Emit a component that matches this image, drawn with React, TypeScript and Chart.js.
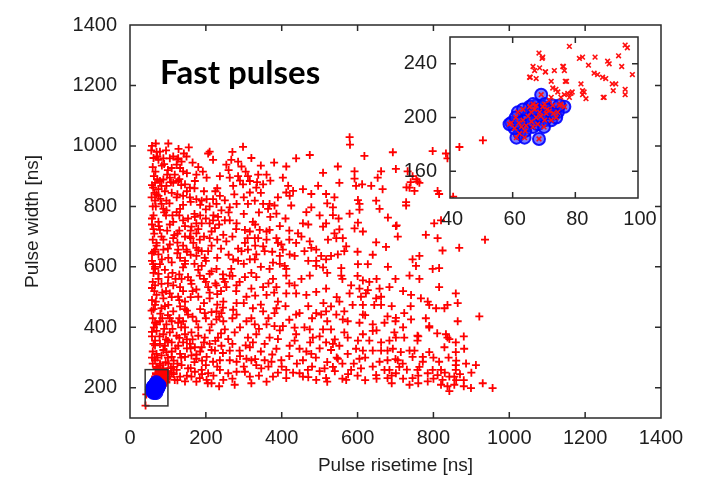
import React, { useEffect, useRef } from 'react';
import { Chart, registerables } from 'chart.js';

Chart.register(...registerables);

const FONT = "'Liberation Sans', Arial, Helvetica, sans-serif";
const TXT = '#1e1e1e';
const FRAME = '#2a2a2a';

const xTicks = [0, 200, 400, 600, 800, 1000, 1200, 1400];
const yTicks = [200, 400, 600, 800, 1000, 1200, 1400];
const insetXTicks = [40, 60, 80, 100];
const insetYTicks = [160, 200, 240];
const insetBox = [40, 100, 140, 260];

const xTitle = 'Pulse risetime [ns]';
const yTitle = 'Pulse width [ns]';
const noteText = 'Fast pulses';

// Fast pulses (red +), upper-left region
const mainUpperLeft: number[][] = [
  [68,1008],[101,1008],[79,981],[88,959],[75,954],[105,959],[114,965],[127,959],[149,965],[136,948],[123,938],[110,927],[132,927],[140,916],[118,905],[105,895],[88,889],[79,884],[66,878],[61,862],[75,857],[83,868],[96,868],[114,878],[127,884],[145,873],[158,862],[171,884],[175,905],[202,895],[210,981],[206,975],[219,954],[237,900],[254,938],[267,954],[285,948],[294,932],[298,997],[263,895],[285,900],[272,868],[298,873],[311,900],[316,884],[338,905],[360,905],[351,873],[316,846],[333,862],[403,895],[412,932],[417,868],[412,846],[421,835],[438,959],[474,970],[430,851],[456,857],[478,841],[496,868],[509,911],[517,841],
  [66,819],[75,835],[83,808],[96,819],[123,830],[140,835],[158,830],[175,824],[189,819],[202,824],[219,824],[237,835],[228,808],[241,787],[263,797],[281,808],[311,808],[329,819],[351,808],[368,808],[381,803],[364,792],[386,776],[425,803],[465,781],[478,797],[88,792],[96,787],[132,792],[123,781],[114,749],[75,749],[79,722],[83,700],[70,679],[66,657],[75,641],[79,609],[61,609],[66,593],[140,754],[153,760],[171,765],[175,744],[189,744],[162,733],[158,700],[175,711],[184,690],[167,679],[175,663],[189,652],[206,652],[197,630],[175,636],[149,657],[127,657],[132,630],[114,695],[105,674],[88,657],[101,630],[210,744],[219,754],[232,765],[250,754],[263,754],[281,744],[246,706],[254,684],[224,728],[210,695],[215,717],[303,722],[316,717],[324,749],[329,695],[338,695],[342,722],[360,717],[368,722],[351,668],[355,652],[333,641],[311,657],[303,679],[294,652],[272,625],[285,620],[228,593],[267,593],[316,625],[329,625],[368,593],[377,614],[390,679],[399,674],[403,657],[386,695],[395,636],[408,603],[412,593],[421,641],[434,636],[438,679],[443,711],[456,744],[452,700],[460,652],[474,684],[478,663],[491,657],[504,636],[509,733],[517,744],[522,690],[491,620],[491,603],[509,598],[517,625],[140,598],[145,620],[189,603],
  [70,980],[90,940],[100,920],[130,890],[70,840],[110,845],[150,850],[95,770],[105,740],[130,720],[145,700],[160,720],[125,680],[150,650],[170,610],[200,790],[185,770],[230,860],[250,820],[225,850],[58,1000],[62,960],[60,930],[63,900],[58,870],[65,845],[60,800],[62,770],[58,740],[64,710],[60,690],[63,650],[58,620]
];

// upper-right region
const mainUpperRight: number[][] = [
  [579,1029],[580,1004],[618,967],[548,932],[592,916],[592,892],[596,868],[612,873],[552,878],[636,868],[653,895],[662,916],[666,857],[693,979],[701,924],[737,862],[750,851],[763,878],[732,916],[798,983],[833,975],[837,959],[811,851],[815,841],[539,830],[535,797],[535,771],[579,776],[601,821],[605,808],[605,789],[649,819],[658,792],[728,814],[728,803],[680,763],[701,735],[706,700],[601,746],[592,727],[614,717],[539,711],[552,724],[561,695],[544,695],[570,668],[565,652],[548,641],[530,636],[557,596],[601,609],[627,609],[649,681],[675,666],[745,625],[763,636],[754,603],[780,706],[811,695],[802,744],[820,754],[824,654],[798,593],[815,596],[868,663],[936,690],
  [758,883],[729,863],[745,900],[755,890],[740,880],[703,737]
];

// lower-left region
const mainLowerLeft: number[][] = [
  [75,577],[101,566],[136,560],[153,566],[184,571],[210,577],[246,560],[263,571],[303,566],[333,566],[377,560],[412,571],[452,560],[474,571],
  [66,539],[83,544],[114,539],[132,533],[162,544],[206,533],[228,539],[254,533],[281,539],[289,550],[320,528],[351,533],[386,533],[412,512],[434,539],[438,512],[465,507],[491,517],[517,528],
  [70,507],[88,496],[105,512],[127,501],[145,485],[180,501],[210,496],[246,485],[281,480],[307,501],[360,507],[390,485],
  [66,474],[83,463],[101,474],[114,453],[132,469],[153,442],[197,447],[228,453],[241,447],[272,458],[281,442],[324,463],[351,453],[381,447],[386,463],[438,442],[447,447],[491,447],[504,442],[517,453],
  [66,415],[79,420],[96,410],[110,420],[127,415],[140,420],[175,420],[215,410],[228,426],[246,420],[250,393],[276,383],[307,420],[329,410],[360,410],[381,404],[403,404],[434,399],[474,393],[509,393],
  [70,388],[88,377],[105,383],[123,372],[145,377],[162,383],[180,372],[197,366],[232,366],[259,361],[311,366],[324,350],[333,377],[368,366],[390,361],[438,377],[434,356],[482,366],
  [66,356],[79,345],[92,339],[110,350],[127,339],[140,350],[158,345],[171,334],[189,334],[210,345],[224,323],[241,339],[263,323],[289,323],[316,334],[355,345],[386,329],[421,339],[447,329],[478,312],[517,350],
  [70,312],[83,307],[96,318],[110,302],[132,312],[145,302],[162,307],[175,296],[202,302],[219,286],[237,291],[263,291],[281,286],[307,296],[320,291],[333,275],[355,291],[373,286],[399,291],[412,259],[456,291],
  [66,291],[79,280],[70,269],[88,264],[101,280],[114,269],[123,259],[136,275],[153,264],[171,253],[189,259],[206,248],[202,226],[237,259],[259,248],[281,253],[303,253],[316,237],[346,264],[377,237],[412,232],[447,248],[456,237],[469,259],[491,226],[513,264],[517,232],
  [105,237],[118,226],[132,237],[145,221],[162,237],[184,232],[215,215],[246,226],[276,210],
  [70,245],[80,235],[90,250],[95,230],[85,260],
  [62,580],[60,550],[64,520],[58,490],[62,460],[60,430],[63,400],[58,370],[62,345],[60,320],[65,300],[60,280],[70,265],[75,255],[100,300],[115,290],[120,330],[95,360],[135,400],[150,360],[160,330],[175,310],[190,290],[110,250],[125,280],[85,430],[100,440],[145,460],[165,520],[200,550],[230,510],[95,520],[120,560]
];

// lower-right region
const mainLowerRight: number[][] = [
  [557,571],[614,555],[631,550],[583,539],[605,528],[627,523],[658,528],[684,533],[579,512],[609,501],[622,512],[649,496],[662,501],[552,485],[587,474],[614,474],[644,474],[662,474],[565,453],[614,442],[544,442],[530,469],[561,426],[574,420],[605,415],[640,410],[671,415],[679,436],[701,431],[723,447],[741,426],[530,393],[565,383],[574,366],[601,356],[614,377],[640,388],[631,356],[662,350],[684,356],[697,383],[701,366],[723,366],[758,372],[758,356],[789,399],[833,377],[842,361],[859,350],[881,329],[829,334],[859,318],[789,318],[737,323],[750,323],[772,302],[745,302],[714,318],[693,329],[679,323],[662,323],[640,323],[614,323],[596,329],[574,312],[552,339],[535,345],[548,296],[605,296],[658,286],[679,291],[706,291],[710,269],[719,280],[701,248],[684,259],[671,259],[649,242],[679,232],[737,210],[745,232],[763,269],[758,259],[772,286],[798,259],[815,286],[811,242],[820,259],[824,226],[842,237],[855,237],[859,259],[859,275],[886,280],[912,275],[837,205],[842,189],[855,210],[899,199],[956,199],[785,221],[785,248],[583,259],[570,226],[609,264],[535,269],[767,496],[785,485],[789,474],[807,463],[829,463],[837,474],[864,480],[859,512],[815,533],[741,507],[763,560],[737,571],[921,436],[864,420],[789,404],[837,366]
];

// additional events read from the densest parts of the cloud
const mainDense: number[][] = [
  [56,985],[72,965],[95,985],[84,935],[67,915],[98,905],[72,890],[108,880],[92,850],[57,830],[80,825],[104,810],[68,800],[90,780],[112,770],[58,760],[76,735],[98,720],[117,705],[62,725],[88,690],[70,670],[100,660],[58,645],[84,625],[110,615],[66,600],[92,590],[112,580],[75,560],[100,545],[58,530],[85,515],[110,500],[68,485],[92,470],[57,455],[80,445],[105,430],[70,410],[90,395],[112,395],[58,385],[78,370],[100,355],[66,340],[88,325],[110,320],[72,300],[94,285],[108,265],[80,275],[58,300],[115,245],[100,255],[88,245],
  [128,990],[155,995],[142,975],[165,945],[125,955],[180,930],[150,910],[192,915],[135,870],[170,860],[195,850],[125,840],[160,815],[185,805],[210,800],[140,805],[130,770],[170,775],[200,760],[220,770],[145,735],[180,725],[235,740],[125,710],[160,695],[195,700],[230,690],[140,670],[180,655],[215,670],[240,660],[125,645],[160,640],[200,620],[230,630],[145,610],[180,590],[215,585],[245,575],[130,575],[160,555],[195,560],[225,545],[250,550],[140,520],[175,525],[210,515],[240,520],[130,490],[160,500],[195,480],[230,475],[150,455],[185,460],[215,450],[245,465],[130,430],[165,435],[200,430],[235,435],[145,400],[180,400],[210,390],[240,380],[130,365],[165,360],[195,350],[225,355],[150,330],[185,320],[215,325],[245,315],[135,300],[170,285],[200,275],[230,270],[160,265],[190,245],[220,240],[150,240],[125,225],[175,220],[205,215],[235,205],
  [270,980],[320,960],[260,920],[305,915],[345,935],[380,945],[290,885],[335,880],[370,885],[275,840],[300,830],[345,845],[390,830],[260,780],[300,775],[340,780],[370,765],[410,760],[280,725],[330,740],[395,735],[420,720],[270,700],[310,695],[360,690],[420,690],[285,660],[330,670],[375,650],[260,640],[300,610],[345,600],[395,610],[270,570],[320,580],[365,545],[420,545],[280,520],[330,505],[380,515],[300,480],[345,475],[410,470],[270,430],[320,430],[365,430],[420,425],[290,400],[340,395],[395,390],[270,345],[305,340],[345,320],[375,310],[420,305],[290,305],[330,295],[365,270],[400,270],[440,280],[300,270],[270,230],[340,240],[390,250],[430,250],[360,220],[320,215],
  [470,470],[510,480],[545,500],[480,430],[520,420],[460,400],[500,370],[540,360],[475,350],[500,330],[530,325],[465,320],[545,300],[490,300],[520,285],[560,280],[480,270],[500,255],[540,255],[575,245],[590,280],[620,300],[640,270],[600,240],[560,230],[620,225],[520,220],[650,230],[470,235],[700,295],[690,240],[730,260],[720,230],[760,240],[690,215],[800,230],[760,215],[830,250],[870,245],[880,225],[860,290],[900,250],[840,300],[800,300],[860,225],[820,210],[880,205],[930,215],[520,810],[500,770],[470,740],[550,760],[470,620],[560,560],[520,580],[600,650],[640,640],[680,600],[600,570],[650,560],[700,560],[720,520],[690,470],[740,470],[700,420],[650,390],[620,440],[720,400],[780,430],[760,370],[810,380],[880,370]
];

// Inset: red "x" points (risetime, width)
const insetCrossRot: number[][] = [
  [68.4,248],[69.4,244],[78.1,253],[66.5,238],[67,235],[68.6,237],[65.4,230],[67.5,229],[70.5,234],[73.3,235],[76.2,238],[76.5,235],[77.2,227],[72.3,227],[72.8,222],[74.4,219],[75.4,215],[76.5,217],[77.6,218],[78.6,218],[78.1,215],[72.3,215],[71.7,213],[75.4,210],[81.8,225],[82.3,217],[83.4,214],[82.3,220],[81.3,244],[82.3,245],[84.2,239],[86.3,245],[87.1,232],[88.7,230],[89.7,229],[90.3,242],[90.8,240],[89.2,215],[92.1,220],[92.9,225],[93.8,246],[94.8,238],[95.9,254],[96.6,252],[95.9,221],[95.9,217],[98.2,232],
  [86,233],[91.8,225],[88.9,215],[82.8,219],[76.8,227],[76,238],[70.4,234],[65.6,230],[69.6,245],[73.8,221],[79,219]
];

// Inset: red "+" points
const insetPlus: number[][] = [[43,178],[50.5,183],[41,141]];

// Blue circled events
const blueEvents: number[][] = [
  [69.1,217],[59.6,196],[61.7,204],[62.2,188],[61.2,185],[63.8,185],[66.5,193],[68.4,184],[76.5,208],[74.4,204],[72.3,198],[70.2,198],[63.3,198],[65.4,208],[67.5,209],[69.6,208],[71.7,205],[64.9,201],[67.5,200],[62.8,193],[64.3,194],[68.6,204],[70.7,203],[65.9,204],[73.9,200],[68,195],[60.6,192],[63.3,206],[72.8,209],[66.5,210],[70.2,210],[74.9,209],[59,195],
  [61,200],[64,190],[66,197],[71,206],[73,203],[69,201],[62,196],[67,206],[70,193]
];

const toXY = (arr: number[][]) => arr.map(([x, y]) => ({ x, y }));

const mainDecor = {
  id: 'mainDecor',
  afterDraw(chart: any) {
    const { ctx, chartArea: ca, scales } = chart;
    const sx = scales.x, sy = scales.y;
    ctx.save();
    ctx.strokeStyle = FRAME;
    ctx.lineWidth = 1.5;
    ctx.strokeRect(ca.left, ca.top, ca.right - ca.left, ca.bottom - ca.top);
    const tl = 6;
    ctx.beginPath();
    xTicks.forEach((v) => {
      const p = sx.getPixelForValue(v);
      if (p <= ca.left + 1 || p >= ca.right - 1) return;
      ctx.moveTo(p, ca.bottom); ctx.lineTo(p, ca.bottom - tl);
      ctx.moveTo(p, ca.top); ctx.lineTo(p, ca.top + tl);
    });
    yTicks.forEach((v) => {
      const p = sy.getPixelForValue(v);
      if (p <= ca.top + 1 || p >= ca.bottom - 1) return;
      ctx.moveTo(ca.left, p); ctx.lineTo(ca.left + tl, p);
      ctx.moveTo(ca.right, p); ctx.lineTo(ca.right - tl, p);
    });
    ctx.stroke();
    const bx0 = sx.getPixelForValue(insetBox[0]);
    const bx1 = sx.getPixelForValue(insetBox[1]);
    const by0 = sy.getPixelForValue(insetBox[3]);
    const by1 = sy.getPixelForValue(insetBox[2]);
    ctx.strokeStyle = '#333';
    ctx.lineWidth = 1.5;
    ctx.strokeRect(bx0, by0, bx1 - bx0, by1 - by0);
    ctx.fillStyle = '#000';
    ctx.font = "bold 33px Lato, 'Open Sans', sans-serif";
    ctx.textAlign = 'left';
    ctx.textBaseline = 'alphabetic';
    ctx.fillText(noteText, ca.left + 30, ca.top + 59);
    ctx.restore();
  },
};

const insetDecor = {
  id: 'insetDecor',
  beforeDatasetsDraw(chart: any) {
    const { ctx, chartArea: ca } = chart;
    ctx.save();
    ctx.fillStyle = '#ffffff';
    ctx.fillRect(ca.left, ca.top, ca.right - ca.left, ca.bottom - ca.top);
    ctx.restore();
  },
  afterDraw(chart: any) {
    const { ctx, chartArea: ca, scales } = chart;
    const sx = scales.x, sy = scales.y;
    ctx.save();
    ctx.strokeStyle = FRAME;
    ctx.lineWidth = 1.5;
    ctx.strokeRect(ca.left, ca.top, ca.right - ca.left, ca.bottom - ca.top);
    const tl = 6;
    ctx.beginPath();
    insetXTicks.forEach((v) => {
      const p = sx.getPixelForValue(v);
      if (p <= ca.left + 1 || p >= ca.right - 1) return;
      ctx.moveTo(p, ca.bottom); ctx.lineTo(p, ca.bottom - tl);
      ctx.moveTo(p, ca.top); ctx.lineTo(p, ca.top + tl);
    });
    insetYTicks.forEach((v) => {
      const p = sy.getPixelForValue(v);
      ctx.moveTo(ca.left, p); ctx.lineTo(ca.left + tl, p);
      ctx.moveTo(ca.right, p); ctx.lineTo(ca.right - tl, p);
    });
    ctx.stroke();
    ctx.fillStyle = TXT;
    ctx.font = `20px ${FONT}`;
    ctx.textBaseline = 'middle';
    ctx.textAlign = 'right';
    insetYTicks.forEach((v) => {
      ctx.fillText(String(v), ca.left - 13, sy.getPixelForValue(v));
    });
    ctx.textAlign = 'center';
    insetXTicks.forEach((v) => {
      ctx.fillText(String(v), sx.getPixelForValue(v) + 2, ca.bottom + 21);
    });
    ctx.restore();
  },
};

export default function App() {
  const mainRef = useRef<HTMLCanvasElement>(null);
  const insetRef = useRef<HTMLCanvasElement>(null);

  useEffect(() => {
    const redAll = [
      ...mainUpperLeft, ...mainUpperRight, ...mainLowerLeft, ...mainLowerRight, ...mainDense,
      ...insetCrossRot, ...insetPlus,
    ];
    const main = new Chart(mainRef.current as HTMLCanvasElement, {
      type: 'scatter',
      data: {
        datasets: [
          {
            label: 'selected',
            data: toXY(blueEvents),
            pointStyle: 'circle',
            pointRadius: 7,
            pointBackgroundColor: 'rgba(0,0,255,0.9)',
            pointBorderColor: 'rgba(0,0,255,0.9)',
            pointBorderWidth: 1,
          } as any,
          {
            label: 'fast',
            data: toXY(redAll),
            pointStyle: 'cross',
            pointRadius: 4,
            pointBorderColor: '#ff0000',
            pointBorderWidth: 1.8,
          } as any,
        ],
      },
      options: {
        animation: false,
        responsive: false,
        devicePixelRatio: 1,
        layout: { padding: { left: 0, right: 44, top: 17, bottom: 0 } },
        plugins: { legend: { display: false }, tooltip: { enabled: false } },
        scales: {
          x: {
            type: 'linear',
            min: xTicks[0],
            max: xTicks[xTicks.length - 1],
            grid: { display: false, drawTicks: false },
            border: { display: false },
            afterBuildTicks: (s: any) => { s.ticks = xTicks.map((v) => ({ value: v })); },
            afterFit: (s: any) => { s.height = 68; },
            ticks: {
              padding: 8, color: TXT, autoSkip: false, maxRotation: 0,
              font: { family: FONT, size: 20 },
              callback: (v: any) => String(v),
            },
            title: {
              display: true, text: xTitle, color: TXT,
              font: { family: FONT, size: 19 },
              padding: { top: 0, bottom: 9 },
            },
          },
          y: {
            type: 'linear',
            min: 100,
            max: yTicks[yTicks.length - 1],
            grid: { display: false, drawTicks: false },
            border: { display: false },
            afterBuildTicks: (s: any) => { s.ticks = yTicks.map((v) => ({ value: v })); },
            afterFit: (s: any) => { s.width = 130; },
            ticks: {
              padding: 13, color: TXT, autoSkip: false,
              font: { family: FONT, size: 20 },
              callback: (v: any) => String(v),
            },
            title: {
              display: true, text: yTitle, color: TXT,
              font: { family: FONT, size: 19 },
              padding: { top: 21, bottom: 0 },
            },
          },
        },
      },
      plugins: [mainDecor],
    });

    const inset = new Chart(insetRef.current as HTMLCanvasElement, {
      type: 'scatter',
      data: {
        datasets: [
          {
            label: 'fast-x',
            data: toXY([...insetCrossRot, ...blueEvents]),
            pointStyle: 'crossRot',
            pointRadius: 3.3,
            pointBorderColor: '#ff1010',
            pointBorderWidth: 1.6,
          } as any,
          {
            label: 'fast-plus',
            data: toXY(insetPlus),
            pointStyle: 'cross',
            pointRadius: 4,
            pointBorderColor: '#ff0000',
            pointBorderWidth: 1.8,
          } as any,
          {
            label: 'selected',
            data: toXY(blueEvents),
            pointStyle: 'circle',
            pointRadius: 6,
            pointBackgroundColor: 'rgba(30,30,255,0.6)',
            pointBorderColor: 'rgba(0,0,255,0.9)',
            pointBorderWidth: 2,
          } as any,
        ],
      },
      options: {
        animation: false,
        responsive: false,
        devicePixelRatio: 1,
        layout: { padding: { left: 70, right: 42, top: 17, bottom: 52 } },
        plugins: { legend: { display: false }, tooltip: { enabled: false } },
        scales: {
          x: { type: 'linear', display: false, min: insetBox[0], max: insetBox[1] },
          y: { type: 'linear', display: false, min: insetBox[2], max: insetBox[3] },
        },
      },
      plugins: [insetDecor],
    });

    return () => {
      main.destroy();
      inset.destroy();
    };
  }, []);

  return (
    <div style={{ position: 'fixed', left: 0, top: 0, width: 705, height: 486, background: '#fff' }}>
      <canvas ref={mainRef} width={705} height={486} style={{ display: 'block', position: 'absolute', left: 0, top: 0 }} />
      <canvas ref={insetRef} width={300} height={230} style={{ display: 'block', position: 'absolute', left: 380, top: 20 }} />
    </div>
  );
}
